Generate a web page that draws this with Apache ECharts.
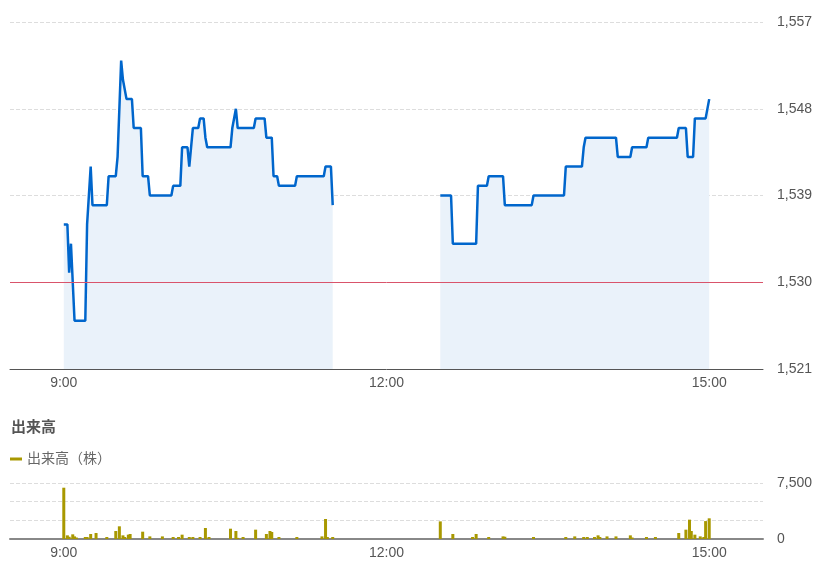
<!DOCTYPE html>
<html><head><meta charset="utf-8">
<script src="https://cdn.jsdelivr.net/npm/echarts@6/dist/echarts.min.js"></script>
<style>html,body{margin:0;padding:0;background:#fff}#c{width:832px;height:587px}</style>
</head><body><div id="c"></div>
<script>
// Price (morning session) vertices
const amTimes = ["9:00","9:02","9:03","9:04","9:05","9:06","9:12","9:13","9:14","9:15","9:16","9:24","9:25","9:29","9:30","9:32","9:33","9:34","9:35","9:38","9:39","9:43","9:44","9:47","9:48","10:00","10:01","10:05","10:06","10:09","10:10","10:11","10:12","10:15","10:16","10:18","10:19","10:20","10:33","10:34","10:35","10:36","10:37","10:46","10:47","10:52","10:53","10:56","10:57","10:59","11:00","11:09","11:10","11:25","11:26","11:29","11:30"];
const amPrices = [1536,1536,1531,1534,1534,1526,1526,1536,1536,1542,1538,1538,1541,1541,1543,1553,1551,1551,1549,1549,1546,1546,1541,1541,1539,1539,1540,1540,1544,1544,1542,1542,1546,1546,1547,1547,1545,1544,1544,1546,1546,1548,1546,1546,1547,1547,1545,1545,1541,1541,1540,1540,1541,1541,1542,1542,1538];
// Price (afternoon session) vertices
const pmTimes = ["12:30","12:36","12:37","12:50","12:51","12:56","12:57","13:05","13:06","13:21","13:22","13:39","13:40","13:49","13:50","13:51","14:08","14:09","14:16","14:17","14:25","14:26","14:42","14:43","14:47","14:48","14:51","14:52","14:58","15:00"];
const pmPrices = [1539,1539,1534,1534,1540,1540,1541,1541,1538,1538,1539,1539,1542,1542,1544,1545,1545,1543,1543,1544,1544,1545,1545,1546,1546,1543,1543,1547,1547,1549];
const prevClose = 1530;
// Volume bars
const volTimes = ["9:00","9:02","9:03","9:05","9:06","9:07","9:12","9:13","9:15","9:18","9:24","9:29","9:31","9:33","9:34","9:36","9:37","9:44","9:48","9:55","10:01","10:04","10:06","10:10","10:12","10:16","10:19","10:21","10:33","10:36","10:37","10:40","10:47","10:53","10:55","10:56","11:00","11:10","11:24","11:26","11:27","11:30",
"12:30","12:37","12:48","12:50","12:57","13:05","13:06","13:22","13:40","13:45","13:50","13:52","13:56","13:58","13:59","14:03","14:08","14:16","14:17","14:25","14:30","14:43","14:47","14:49","14:50","14:52","14:55","14:57","14:58","15:00"];
const volValues = [6870,490,300,625,350,200,270,270,670,800,270,1070,1700,490,270,580,670,980,350,350,270,270,580,270,270,270,1470,270,1380,1070,150,270,1250,670,1070,940,270,270,350,2680,270,270,
2360,670,270,670,270,350,300,270,270,350,270,270,270,490,270,350,350,490,200,270,270,800,1250,2590,1070,580,350,270,2400,2770];

const toMin = s => { const [h,m] = s.split(":").map(Number); return h*60+m; };
const fmtTime = v => Math.floor(v/60) + ":" + String(v%60).padStart(2,"0");
const fmtNum = v => v.toLocaleString("en-US");
const FONT = "'Liberation Sans','Noto Sans CJK JP',sans-serif";
const labelStyle = {color:"#555", fontSize:14, fontFamily:FONT};

const xBase = (gridIndex, lineColor, lineWidth) => ({
  type:"value", gridIndex, min:510, max:930,
  axisLine:{show:true, lineStyle:{color:lineColor, width:lineWidth}},
  axisTick:{show:false}, splitLine:{show:false},
  axisLabel:Object.assign({customValues:[540,720,900], formatter:fmtTime, margin:7}, labelStyle)
});

const lineSeries = (times, prices, withMark) => ({
  type:"line", xAxisIndex:0, yAxisIndex:0, symbol:"none",
  data: times.map((t,i)=>[toMin(t), prices[i]]),
  lineStyle:{color:"#0066cc", width:2.5},
  itemStyle:{color:"#0066cc"},
  areaStyle:{color:"#eaf2fa", opacity:1, origin:"start"},
  markLine: withMark ? {silent:true, symbol:"none", label:{show:false},
    lineStyle:{color:"#d9546b", width:1, type:"solid"},
    data:[{yAxis:prevClose}]} : undefined,
  animation:false, z:3
});

const chart = echarts.init(document.getElementById("c"));
chart.setOption({
  animation:false,
  textStyle:{fontFamily:FONT},
  title:{text:"出来高", left:6, top:415, textStyle:{fontSize:15, fontWeight:"bold", color:"#555", fontFamily:FONT}},
  legend:{left:5, top:447, icon:"rect", itemWidth:12, itemHeight:3, itemGap:8,
    textStyle:{fontSize:14, color:"#666", fontFamily:FONT}, data:["出来高（株）"]},
  grid:[
    {left:10, right:69, top:22, height:347},
    {left:10, right:69, top:483, height:56}
  ],
  xAxis:[ xBase(0,"#555",1), xBase(1,"#888",2) ],
  yAxis:[
    {type:"value", gridIndex:0, position:"right", min:1521, max:1557, interval:9,
      axisLine:{show:false}, axisTick:{show:false},
      splitLine:{show:true, lineStyle:{color:"#ddd", type:"dashed"}},
      axisLabel:Object.assign({formatter:fmtNum, margin:14}, labelStyle)},
    {type:"value", gridIndex:1, position:"right", min:0, max:7500, interval:2500,
      axisLine:{show:false}, axisTick:{show:false},
      splitLine:{show:true, lineStyle:{color:"#ddd", type:"dashed"}},
      axisLabel:Object.assign({formatter:v => (v===0||v===7500)?fmtNum(v):"", margin:14}, labelStyle)}
  ],
  series:[
    lineSeries(amTimes, amPrices, true),
    lineSeries(pmTimes, pmPrices, false),
    {name:"出来高（株）", type:"bar", xAxisIndex:1, yAxisIndex:1, barWidth:3,
      data: volTimes.map((t,i)=>[toMin(t), volValues[i]]),
      itemStyle:{color:"#a89800"}}
  ]
});
</script></body></html>
